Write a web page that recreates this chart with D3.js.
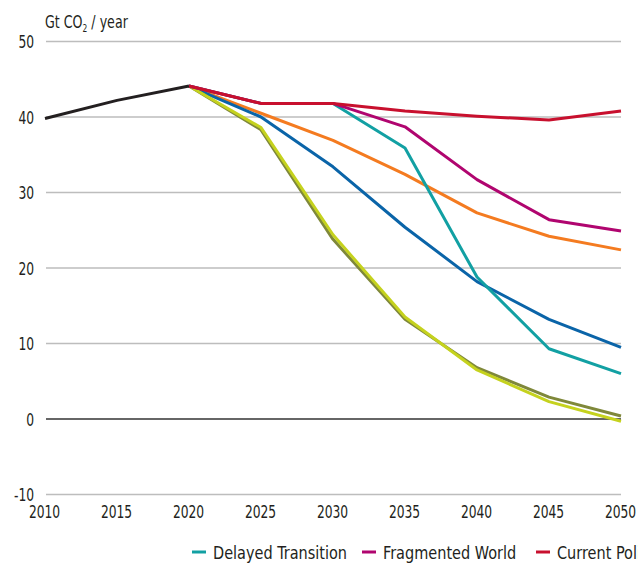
<!DOCTYPE html>
<html><head><meta charset="utf-8">
<script src="https://cdn.jsdelivr.net/npm/d3@7"></script>
<style>
html,body{margin:0;padding:0;background:#fff;overflow:hidden;}
svg text{font-family:"Liberation Sans Narrow","DejaVu Sans Condensed","DejaVu Sans",sans-serif;fill:#231f20;}
</style></head>
<body><svg id="chart" width="638" height="563"></svg>
<script>
const years = [2010, 2015, 2020, 2025, 2030, 2035, 2040, 2045, 2050];
const yTicks = [-10, 0, 10, 20, 30, 40, 50];
const historical = [39.8, 42.2, 44.1, null, null, null, null, null, null];
const ndcs = [null, null, 44.1, 40.5, 36.9, 32.4, 27.3, 24.2, 22.4];
const below2 = [null, null, 44.1, 40.0, 33.4, 25.4, 18.2, 13.2, 9.5];
const netZero = [null, null, 44.1, 38.3, 23.8, 13.2, 6.8, 2.9, 0.4];
const lowDemand = [null, null, 44.1, 38.6, 24.4, 13.5, 6.5, 2.3, -0.3];
const delayed = [null, null, 44.1, 41.8, 41.8, 35.9, 18.8, 9.3, 6.0];
const fragmented = [null, null, 44.1, 41.8, 41.8, 38.7, 31.7, 26.4, 24.9];
const currentPol = [null, null, 44.1, 41.8, 41.8, 40.8, 40.1, 39.6, 40.8];
const legendLabels = ["Delayed Transition", "Fragmented World", "Current Policies"];

const series = [
  {name:"NDCs", values:ndcs, color:"#f47b20"},
  {name:"Below 2°C", values:below2, color:"#0a64a8"},
  {name:"Net Zero 2050", values:netZero, color:"#7f883a"},
  {name:"Low Demand", values:lowDemand, color:"#c5d21e"},
  {name:legendLabels[0], values:delayed, color:"#12a0a3"},
  {name:legendLabels[1], values:fragmented, color:"#b0056f"},
  {name:legendLabels[2], values:currentPol, color:"#c8102e"},
  {name:"Historical", values:historical, color:"#231f20"}
];

function squeeze(sel, factor) {
  sel.each(function() {
    const w = this.getComputedTextLength();
    d3.select(this).attr("textLength", w * factor).attr("lengthAdjust", "spacingAndGlyphs");
  });
}

const svg = d3.select("#chart");
const x = d3.scaleLinear().domain([2010, 2050]).range([45, 621]);
const y = d3.scaleLinear().domain([-10, 50]).range([494.5, 41.5]);

// gridlines
svg.append("g").selectAll("line").data(yTicks).join("line")
  .attr("x1", 46).attr("x2", 621)
  .attr("y1", d => y(d)).attr("y2", d => y(d))
  .attr("stroke", d => d === 0 ? "#333" : "#bdbdbd")
  .attr("stroke-width", d => d === 0 ? 1.4 : 1.3);

// y axis labels
const yAxis = d3.axisLeft(y).tickValues(yTicks).tickFormat(d => String(d)).tickSize(0).tickPadding(0);
const gy = svg.append("g").attr("transform", "translate(34,0)").call(yAxis);
gy.select(".domain").remove();
gy.selectAll("text").style("font-size", "17.5px").attr("fill", "#231f20")
  .style("font-family", null).attr("dy", "0.35em");
squeeze(gy.selectAll("text"), 0.78);

// x axis labels
const xAxis = d3.axisBottom(x).tickValues(years).tickFormat(d3.format("d")).tickSize(0).tickPadding(0);
const gx = svg.append("g").attr("transform", "translate(-1,506)").call(xAxis);
gx.select(".domain").remove();
gx.selectAll("text").style("font-size", "17.5px").attr("fill", "#231f20")
  .style("font-family", null);
squeeze(gx.selectAll("text"), 0.78);

// title
const t = svg.append("text").attr("transform", "translate(45,28) scale(0.76,1)").style("font-size", "18.5px");
t.append("tspan").text("Gt CO");
t.append("tspan").text("2").style("font-size", "11px").attr("dy", 4);
t.append("tspan").text(" / year").attr("dy", -4);

// lines
const line = d3.line().defined(d => d[1] !== null).x(d => x(d[0])).y(d => y(d[1]));
svg.append("g").selectAll("path").data(series).join("path")
  .attr("fill", "none").attr("stroke", d => d.color)
  .attr("stroke-width", 3).attr("stroke-linejoin", "round")
  .attr("d", d => line(years.map((yr, i) => [yr, d.values[i]])));

// legend
const legendX = [192, 362, 536];
const lg = svg.append("g").selectAll("g").data(series.filter(s => legendLabels.includes(s.name))).join("g")
  .attr("transform", (d, i) => `translate(${legendX[i]},552)`);
lg.append("line").attr("x1", 0).attr("x2", 14).attr("stroke", d => d.color).attr("stroke-width", 3);
const lt = lg.append("text").attr("x", 21).attr("y", 6.5).style("font-size", "17.5px").text(d => d.name);
squeeze(lt, 0.92);
</script></body></html>
